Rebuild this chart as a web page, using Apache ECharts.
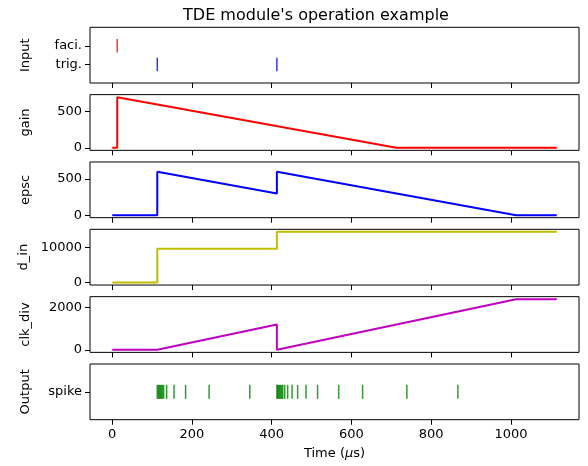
<!DOCTYPE html>
<html>
<head>
<meta charset="utf-8">
<script src="https://cdn.jsdelivr.net/npm/echarts@6/dist/echarts.min.js"></script>
<style>html,body{margin:0;padding:0;background:#fff;}#c{width:588px;height:466px;}</style>
</head>
<body>
<div id="c"></div>
<script>
// ---- data ----
const titleText = "TDE module's operation example";
const panelNames = ['Input', 'gain', 'epsc', 'd_in', 'clk_div', 'Output'];
const xTicks = [0, 200, 400, 600, 800, 1000];

const faciTimes = [12.5];
const trigTimes = [113, 413];

const gainT = [0, 12.5, 12.5, 712.5, 1115];
const gainV = [0, 0, 700, 0, 0];

const epscT = [0, 113, 113, 413, 413, 1013, 1115];
const epscV = [0, 0, 600, 300, 600, 0, 0];

const dinT = [0, 113, 113, 413, 413, 1115];
const dinV = [0, 0, 9600, 9600, 14400, 14400];

const clkT = [0, 113, 413, 413, 1013, 1115];
const clkV = [0, 0, 1200, 0, 2400, 2400];

const spikeTimes = [113, 115.5, 118, 120.5, 123, 126, 129, 136.5, 155, 184, 243, 345,
  413, 415, 417, 419.5, 422, 425, 427.6, 432.6, 440, 451, 465, 486, 515, 568, 628, 739, 867];

const gainTicks = [0, 500];
const epscTicks = [0, 500];
const dinTicks = [0, 10000];
const clkTicks = [0, 2000];
const inputTicks = [0, 1];
const inputTickLabels = {0: 'trig.', 1: 'faci.'};
const outputTicks = [0];
const outputTickLabels = {0: 'spike'};

// ---- layout ----
const FONT = 'DejaVu Sans';
const xMin = -55.75, xMax = 1170.75;
const gridLeft = 90, gridRight = 9, firstTop = 27.3, step = 67.34, gridH = 55.7;

const pairs = (t, v) => t.map((x, i) => [x, v[i]]);

const grids = [], xAxes = [], yAxes = [];
for (let i = 0; i < 6; i++) {
  grids.push({left: gridLeft, right: gridRight, top: firstTop + i * step, height: gridH,
    show: true, borderColor: '#000', borderWidth: 1, backgroundColor: 'transparent'});
  const last = i === 5;
  xAxes.push({
    type: 'value', gridIndex: i, min: xMin, max: xMax, position: 'bottom',
    axisLine: {show: false, onZero: false},
    splitLine: {show: false},
    axisTick: {show: true, inside: false, length: 5, lineStyle: {color: '#000', width: 1}, customValues: xTicks},
    axisLabel: {show: last, margin: 8, color: '#000', fontFamily: FONT, fontSize: 13, customValues: xTicks,
      formatter: v => String(v)},
    name: last ? '{n|Time (}{m|μ}{n|s)}' : '',
    nameLocation: 'middle', nameGap: 27,
    nameTextStyle: {rich: {n: {fontFamily: FONT, fontSize: 13, color: '#000'}, m: {fontFamily: FONT, fontSize: 13, fontStyle: 'italic', color: '#000'}}}
  });
}

const yDefs = [
  {min: -1, max: 2, ticks: inputTicks, fmt: v => inputTickLabels[v]},
  {min: -35, max: 735, ticks: gainTicks, fmt: v => String(v)},
  {min: -35, max: 735, ticks: epscTicks, fmt: v => String(v)},
  {min: -720, max: 15120, ticks: dinTicks, fmt: v => String(v)},
  {min: -120, max: 2520, ticks: clkTicks, fmt: v => String(v)},
  {min: -1, max: 1, ticks: outputTicks, fmt: v => outputTickLabels[v]}
];
yDefs.forEach((d, i) => {
  yAxes.push({
    type: 'value', gridIndex: i, min: d.min, max: d.max, position: 'left',
    axisLine: {show: false, onZero: false}, splitLine: {show: false},
    axisTick: {show: true, inside: false, length: 5, lineStyle: {color: '#000', width: 1}, customValues: d.ticks},
    axisLabel: {show: true, margin: 8, color: '#000', fontFamily: FONT, fontSize: 13, customValues: d.ticks, formatter: d.fmt},
    name: panelNames[i], nameLocation: 'middle', nameRotate: 90, nameGap: 58,
    nameTextStyle: {fontFamily: FONT, fontSize: 13, color: '#000'}
  });
});

const lineSeries = (idx, t, v, color) => ({
  type: 'line', xAxisIndex: idx, yAxisIndex: idx, data: pairs(t, v),
  showSymbol: false, symbol: 'none', lineStyle: {color: color, width: 2}, itemStyle: {color: color},
  clip: true, animation: false
});
const eventSeries = (idx, times, y, color, h) => ({
  type: 'scatter', xAxisIndex: idx, yAxisIndex: idx, data: times.map(t => [t, y]),
  symbol: 'rect', symbolSize: [1.5, h], itemStyle: {color: color}, animation: false
});

const option = {
  animation: false,
  backgroundColor: '#fff',
  textStyle: {fontFamily: FONT},
  title: {text: titleText, left: 311, top: 3, textAlign: 'center',
    textStyle: {fontFamily: FONT, fontSize: 16, fontWeight: 'normal', color: '#000'}},
  grid: grids, xAxis: xAxes, yAxis: yAxes,
  series: [
    eventSeries(0, faciTimes, 1, '#ff0000', 13.5),
    eventSeries(0, trigTimes, 0, '#0000ff', 13.5),
    lineSeries(1, gainT, gainV, '#ff0000'),
    lineSeries(2, epscT, epscV, '#0000ff'),
    lineSeries(3, dinT, dinV, '#bfbf00'),
    lineSeries(4, clkT, clkV, '#bf00bf'),
    eventSeries(5, spikeTimes, 0, '#008000', 14)
  ]
};
const chart = echarts.init(document.getElementById('c'), null, {renderer: 'canvas'});
chart.setOption(option);
</script>
</body>
</html>
